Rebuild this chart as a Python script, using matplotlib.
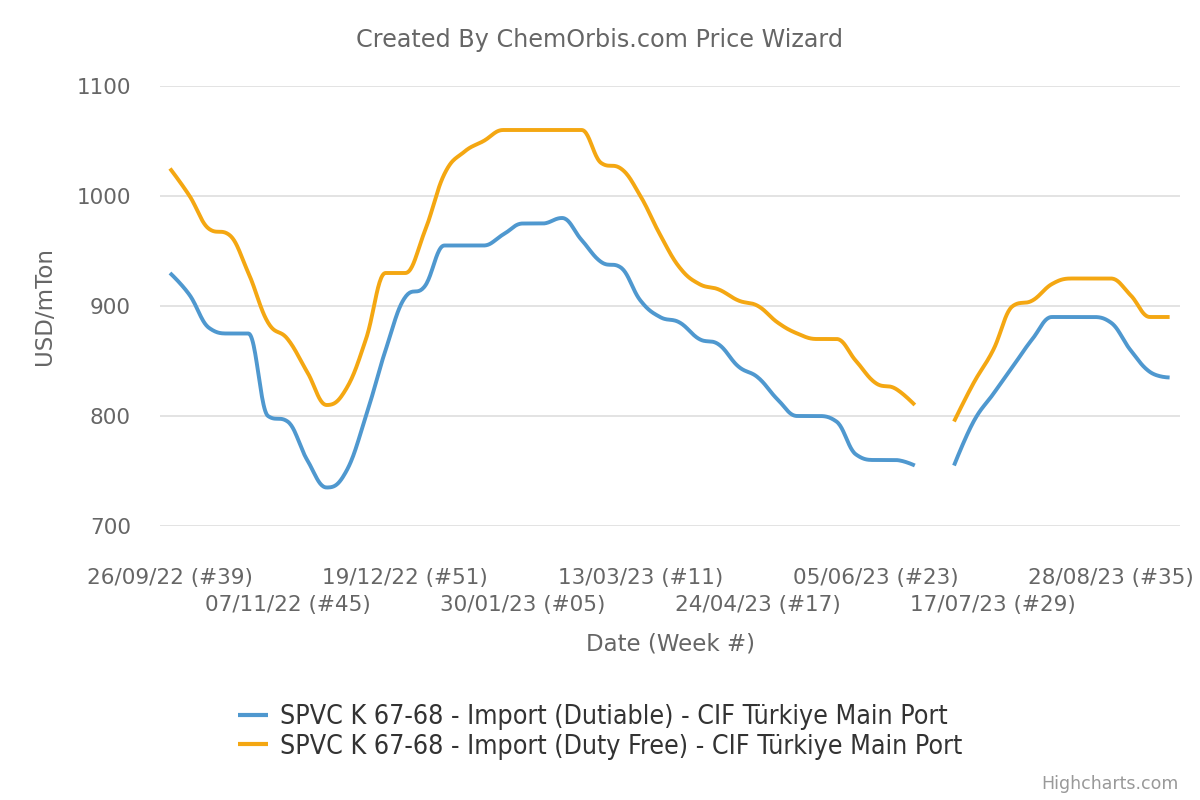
import numpy as np
import matplotlib
matplotlib.use("Agg")
import matplotlib.pyplot as plt

# weekly data, 26/09/22 (#39) .. 18/09/23 (#38), week of 26/06/23 missing
week_labels = ["26/09/22 (#39)", "07/11/22 (#45)", "19/12/22 (#51)", "30/01/23 (#05)",
               "13/03/23 (#11)", "24/04/23 (#17)", "05/06/23 (#23)", "17/07/23 (#29)",
               "28/08/23 (#35)"]
nan = np.nan
dutiable = [930, 910, 880, 875, 875, 800, 795, 760, 735, 750,
            800, 860, 908, 918, 955, 955, 955, 965, 975, 975,
            980, 960, 940, 935, 905, 890, 885, 870, 865, 845,
            835, 815, 800, 800, 795, 765, 760, 760, 755, nan,
            755, 795, 820, 845, 870, 890, 890, 890, 885, 860,
            840, 835]
duty_free = [1025, 1000, 970, 965, 930, 885, 870, 840, 810, 825,
             870, 930, 930, 968, 1020, 1040, 1050, 1060, 1060, 1060,
             1060, 1060, 1030, 1025, 1000, 965, 935, 920, 915, 905,
             900, 885, 875, 870, 870, 850, 830, 825, 810, nan,
             795, 830, 860, 900, 905, 920, 925, 925, 925, 910,
             890, 890]
series_names = ["SPVC K 67-68 - Import (Dutiable) - CIF Türkiye Main Port",
                "SPVC K 67-68 - Import (Duty Free) - CIF Türkiye Main Port"]
colors = ["#4f98cf", "#f4a712"]


def spline(xs, ys, smoothing=1.5, steps=25):
    # same smoothing as a highcharts "spline" series
    n = len(xs)
    left = [(xs[i], ys[i]) for i in range(n)]
    right = [(xs[i], ys[i]) for i in range(n)]
    denom = smoothing + 1
    for i in range(1, n - 1):
        px, py = xs[i], ys[i]
        lx, ly = xs[i - 1], ys[i - 1]
        nx, ny = xs[i + 1], ys[i + 1]
        lcx = (smoothing * px + lx) / denom
        lcy = (smoothing * py + ly) / denom
        rcx = (smoothing * px + nx) / denom
        rcy = (smoothing * py + ny) / denom
        corr = (rcy - lcy) * (rcx - px) / (rcx - lcx) + py - rcy
        lcy += corr
        rcy += corr
        if lcy > ly and lcy > py:
            lcy = max(ly, py); rcy = 2 * py - lcy
        elif lcy < ly and lcy < py:
            lcy = min(ly, py); rcy = 2 * py - lcy
        if rcy > ny and rcy > py:
            rcy = max(ny, py); lcy = 2 * py - rcy
        elif rcy < ny and rcy < py:
            rcy = min(ny, py); lcy = 2 * py - rcy
        left[i] = (lcx, lcy)
        right[i] = (rcx, rcy)
    t = np.linspace(0, 1, steps)[:, None]
    out = []
    for i in range(n - 1):
        p0 = np.array([xs[i], ys[i]])
        p1 = np.array(right[i])
        p2 = np.array(left[i + 1])
        p3 = np.array([xs[i + 1], ys[i + 1]])
        seg = (1 - t) ** 3 * p0 + 3 * (1 - t) ** 2 * t * p1 + 3 * (1 - t) * t ** 2 * p2 + t ** 3 * p3
        out.append(seg if i == 0 else seg[1:])
    out = np.vstack(out)
    return out[:, 0], out[:, 1]


plt.rcParams["font.family"] = "DejaVu Sans"
fig = plt.figure(figsize=(12, 8), dpi=100)
ax = fig.add_axes([160 / 1200, 1 - 526 / 800, 1020 / 1200, 440 / 800])

x = np.arange(len(dutiable))
for vals, name, col in zip([dutiable, duty_free], series_names, colors):
    y = np.array(vals, dtype=float)
    ok = ~np.isnan(y)
    # split into runs without gaps
    breaks = np.where(np.diff(ok.astype(int)) != 0)[0] + 1
    first = True
    for run in np.split(np.arange(len(y)), breaks):
        if not ok[run[0]]:
            continue
        sx, sy = spline(x[run].astype(float), y[run])
        ax.plot(sx, sy, color=col, lw=2.8, solid_capstyle="butt",
                label=name if first else None)
        first = False

ax.set_xlim(-0.51, 51.53)
ax.set_ylim(700, 1100)
ax.set_yticks([700, 800, 900, 1000, 1100])
ax.grid(axis="y", color="#dedede", lw=1.2)
ax.set_axisbelow(True)
for s in ax.spines.values():
    s.set_visible(False)

tick_pos = np.arange(0, 49, 6)
ax.set_xticks(tick_pos[::2])
ax.set_xticklabels(week_labels[::2])
ax.set_xticks(tick_pos[1::2], minor=True)
ax.set_xticklabels(week_labels[1::2], minor=True)
ax.tick_params(axis="x", which="major", length=0, pad=30, labelsize=15.5, labelcolor="#666666")
ax.tick_params(axis="x", which="minor", length=0, pad=50, labelsize=15.5, labelcolor="#666666")
ax.tick_params(axis="y", length=0, pad=21, labelsize=15.5, labelcolor="#666666")

ax.set_xlabel("Date (Week #)", fontsize=16.5, color="#666666", labelpad=12)
ax.set_ylabel("USD/mTon", fontsize=16.5, color="#666666", labelpad=15)
fig.text(0.5, 1 - 40 / 800, "Created By ChemOrbis.com Price Wizard",
         ha="center", va="center", fontsize=17.2, color="#666666")
fig.text(1179 / 1200, 1 - 784 / 800, "Highcharts.com", ha="right", va="center",
         fontsize=12.5, color="#999999")

leg = fig.legend(loc="upper left", bbox_to_anchor=(238 / 1200, 1 - 704 / 800),
                 frameon=False, handlelength=1.14, handletextpad=0.42, labelspacing=0.14,
                 borderaxespad=0, borderpad=0,
                 prop={"size": 19.2, "family": "DejaVu Sans", "stretch": "condensed"})
for t in leg.get_texts():
    t.set_color("#333333")
for h in leg.get_lines():
    h.set_linewidth(3)

fig.savefig("out.png", dpi=100)
